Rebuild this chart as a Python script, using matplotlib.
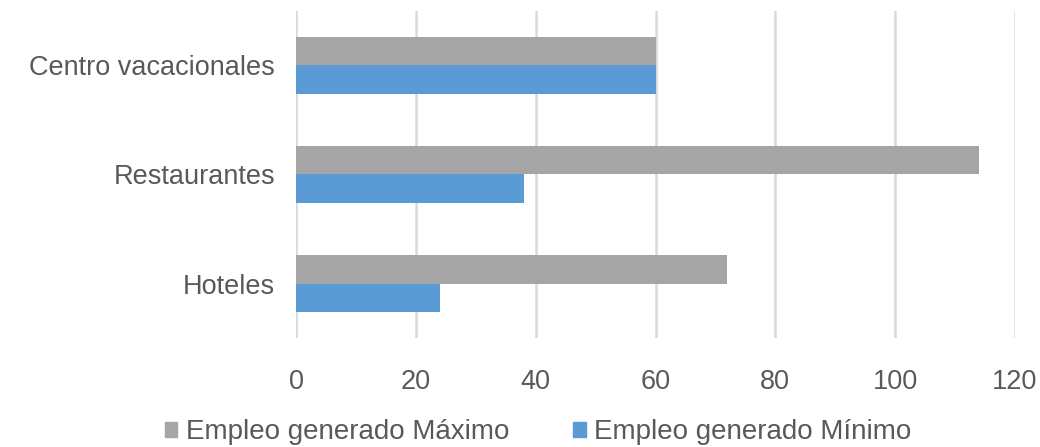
import matplotlib
matplotlib.use("Agg")
import matplotlib.pyplot as plt
import numpy as np
from matplotlib.patches import Patch

categories = ["Hoteles", "Restaurantes", "Centro vacacionales"]
maximo = [72, 114, 60]
minimo = [24, 38, 60]
series_names = ["Empleo generado Máximo", "Empleo generado Mínimo"]
xticks = [0, 20, 40, 60, 80, 100, 120]

plt.rcParams['font.family'] = ['Liberation Sans', 'DejaVu Sans']
text_color = "#595959"
gray = "#a5a5a5"
blue = "#5b9bd5"

fig = plt.figure(figsize=(10.4, 4.47), dpi=100)
ax = fig.add_axes([296/1040, 1 - 338/447, (1015-296)/1040, (338-11)/447])

y = np.arange(len(categories))
h = 0.257
ax.barh(y + h/2, maximo, height=h, color=gray, zorder=3)
ax.barh(y - h/2, minimo, height=h, color=blue, zorder=3)

ax.set_xlim(0, 120)
ax.set_ylim(-0.5, 2.5)
ax.set_xticks(xticks)
ax.set_xticklabels([str(t) for t in xticks])
ax.set_yticks(y)
ax.set_yticklabels(categories)
ax.tick_params(axis='both', length=0, labelsize=19.5, colors=text_color)
ax.tick_params(axis='x', pad=22)
ax.tick_params(axis='y', pad=15)
for s in ax.spines.values():
    s.set_visible(False)
ax.grid(axis='x', color="#d9d9d9", linewidth=1.8, zorder=0)
ax.set_axisbelow(True)

handles = [Patch(color=gray), Patch(color=blue)]
leg = fig.legend(handles, series_names, loc='center', bbox_to_anchor=(538/1040, 1 - 432/447),
                 ncol=2, frameon=False, fontsize=20, handlelength=0.45, handleheight=0.45,
                 handletextpad=0.3, columnspacing=2.3, labelcolor=text_color)

fig.savefig("out.png", dpi=100)
